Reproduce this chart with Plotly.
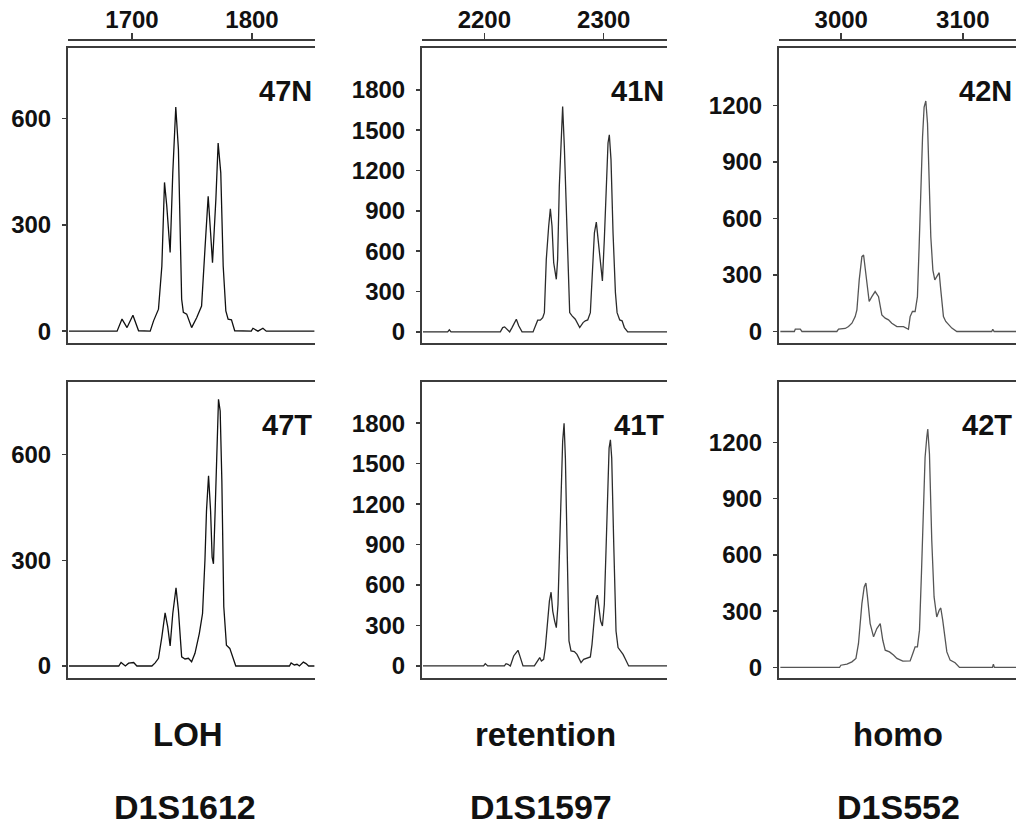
import plotly.graph_objects as go

# ---------------- data ----------------
x_47N = [1647.5, 1687.6, 1691.7, 1695.9, 1700.8, 1705.5, 1715.2, 1718.0, 1722.1, 1724.9, 1727.1, 1729.0,
         1731.8, 1734.0, 1736.5, 1738.7, 1741.4, 1742.8, 1745.6, 1749.7, 1753.9, 1758.0, 1760.8, 1763.5,
         1765.5, 1767.1, 1769.9, 1771.8, 1774.0, 1776.0, 1778.2, 1780.1, 1782.9, 1785.6, 1799.4, 1800.8,
         1805.0, 1809.1, 1811.9, 1852.0]
y_47N = [0, 0, 34, 10, 45, 1, 0, 29, 62, 184, 420, 353,
         222, 447, 633, 513, 90, 53, 48, 10, 38, 71, 231, 381,
         278, 193, 372, 531, 447, 184, 57, 34, 32, 1, 0, 8,
         0, 8, 0, 0]

x_47T = [1647.5, 1689.0, 1690.9, 1694.5, 1697.2, 1701.4, 1704.1, 1716.6, 1719.3, 1722.1, 1724.9, 1727.6,
         1729.8, 1731.8, 1734.0, 1736.7, 1738.7, 1741.4, 1744.2, 1747.0, 1749.7, 1752.5, 1756.1, 1758.8,
         1760.8, 1762.1, 1763.8, 1765.5, 1766.8, 1767.9, 1769.3, 1770.7, 1772.1, 1773.5, 1774.9, 1776.5,
         1778.7, 1781.5, 1784.2, 1786.5, 1831.2, 1832.6, 1835.3, 1837.5, 1839.5, 1842.8, 1845.0, 1847.2,
         1852.0]
y_47T = [0, 0, 10, 0, 8, 10, 0, 0, 9, 22, 83, 151,
         111, 57, 149, 222, 158, 26, 20, 22, 12, 36, 92, 149,
         300, 441, 540, 441, 309, 290, 441, 592, 757, 724, 526, 168,
         59, 50, 26, 0, 0, 9, 3, 5, 0, 11, 7, 0,
         0]

x_41N = [2148.6, 2169.3, 2170.7, 2172.1, 2213.4, 2215.4, 2217.0, 2219.0, 2221.2, 2223.2, 2226.8, 2228.8,
         2231.6, 2240.8, 2242.7, 2244.7, 2246.9, 2248.9, 2250.3, 2251.9, 2253.9, 2255.3, 2256.7, 2258.1,
         2260.3, 2261.4, 2262.8, 2264.2, 2265.6, 2267.0, 2268.7, 2270.4, 2271.5, 2273.5, 2276.2, 2279.9,
         2282.7, 2284.6, 2286.6, 2288.8, 2290.8, 2292.2, 2293.8, 2295.2, 2297.2, 2298.9, 2300.5, 2302.2,
         2303.6, 2304.7, 2306.1, 2307.8, 2309.8, 2311.2, 2313.4, 2315.4, 2317.3, 2320.1, 2353.1]
y_41N = [0, 0, 15, 0, 0, 32, 37, 20, 0, 32, 94, 45,
         0, 0, 45, 87, 87, 106, 143, 539, 786, 915, 786, 514,
         391, 539, 1083, 1429, 1676, 1380, 860, 366, 143, 119, 94, 32,
         69, 82, 89, 143, 490, 737, 816, 687, 490, 378, 687, 1083,
         1405, 1466, 1281, 737, 292, 143, 89, 82, 32, 0, 0]

x_41T = [2148.6, 2199.4, 2200.8, 2202.8, 2216.8, 2218.2, 2219.8, 2221.8, 2224.6, 2228.2, 2230.2, 2232.4,
         2241.9, 2244.1, 2246.4, 2247.8, 2249.7, 2251.1, 2253.1, 2254.5, 2255.9, 2257.3, 2258.9, 2260.3,
         2261.7, 2263.1, 2264.2, 2265.6, 2266.8, 2267.9, 2269.3, 2270.9, 2272.6, 2275.4, 2277.6, 2281.0,
         2283.2, 2286.0, 2288.8, 2290.2, 2292.2, 2293.5, 2294.7, 2296.1, 2297.4, 2298.9, 2300.5, 2301.9,
         2303.3, 2304.5, 2305.6, 2306.7, 2308.4, 2310.3, 2312.0, 2314.0, 2316.2, 2318.2, 2320.9, 2353.1]
y_41T = [0, 0, 17, 0, 0, 17, 12, 0, 74, 116, 62, 0,
         0, 32, 62, 37, 49, 136, 358, 481, 547, 407, 333, 284,
         456, 925, 1295, 1665, 1800, 1541, 900, 185, 111, 106, 86, 25,
         49, 57, 67, 160, 407, 493, 525, 432, 333, 296, 456, 851,
         1295, 1615, 1677, 1541, 900, 259, 136, 111, 86, 49, 0, 0]

x_42N = [2949.9, 2961.4, 2962.2, 2966.3, 2967.7, 2996.4, 2997.8, 3003.3, 3006.0, 3008.8, 3011.5, 3012.9,
         3014.8, 3017.0, 3018.4, 3018.9, 3021.1, 3023.0, 3025.2, 3027.9, 3030.7, 3033.4, 3036.2, 3038.9,
         3041.6, 3045.8, 3051.2, 3055.3, 3056.7, 3058.6, 3060.8, 3062.7, 3064.1, 3065.5, 3066.9, 3068.2,
         3069.6, 3071.0, 3072.3, 3073.7, 3075.4, 3077.0, 3078.6, 3080.6, 3081.9, 3084.1, 3086.0, 3088.2,
         3091.0, 3095.1, 3123.8, 3124.7, 3125.8, 3144.4]
y_42N = [0, 0, 12, 12, 0, 0, 12, 16, 26, 44, 79, 115,
         274, 397, 406, 379, 238, 159, 185, 212, 185, 88, 71, 62,
         44, 26, 26, 12, 79, 106, 106, 185, 450, 750, 1032, 1191,
         1223, 1103, 785, 503, 326, 274, 291, 312, 221, 79, 53, 35,
         18, 0, 0, 12, 0, 0]

x_42T = [2949.9, 2998.6, 2999.7, 3004.7, 3008.8, 3012.1, 3014.2, 3017.0, 3018.9, 3020.3, 3021.6, 3023.8,
         3026.6, 3029.3, 3032.1, 3034.2, 3036.2, 3039.7, 3043.0, 3045.8, 3050.7, 3056.7, 3058.9, 3060.8,
         3062.7, 3064.4, 3066.0, 3067.7, 3069.0, 3070.4, 3071.2, 3072.6, 3074.5, 3076.4, 3078.6, 3080.6,
         3081.9, 3083.5, 3085.5, 3086.9, 3089.6, 3093.7, 3097.3, 3124.4, 3125.2, 3126.0, 3144.4]
y_42T = [0, 0, 12, 18, 30, 48, 128, 340, 429, 450, 376, 234,
         163, 207, 234, 145, 92, 83, 66, 48, 34, 35, 74, 110,
         110, 199, 500, 854, 1120, 1227, 1271, 1138, 677, 376, 269, 305,
         317, 252, 145, 83, 39, 25, 0, 0, 18, 0, 0]

sample_labels = ["47N", "41N", "42N", "47T", "41T", "42T"]
status_labels = ["LOH", "retention", "homo"]
marker_labels = ["D1S1612", "D1S1597", "D1S552"]

x_ranges = [[1646.7, 1852.5], [2147.8, 2353.0], [2948.8, 3143.8]]
x_ticks = [[1700, 1800], [2200, 2300], [3000, 3100]]
y_ranges = [[-34, 800], [-84, 2112], [-62, 1505],
            [-35, 806], [-92, 2105], [-58, 1521]]
y_ticks = [[0, 300, 600], [0, 300, 600, 900, 1200, 1500, 1800], [0, 300, 600, 900, 1200]]

series_x = [x_47N, x_41N, x_42N, x_47T, x_41T, x_42T]
series_y = [y_47N, y_41N, y_42N, y_47T, y_41T, y_42T]

# ---------------- layout geometry ----------------
W, H = 1016, 826
col_px = [(68, 315), (422, 667), (779, 1016)]
row_px = [(48, 344), (383, 680)]
status_cx = [188, 545, 898]
marker_cx = [185, 541, 898]
line_col = "#3c3c3c"
trace_cols = ["#111111", "#2b2b2b", "#555555"]
FONT = "Liberation Sans, Arial, Helvetica, sans-serif"
TICK_SIZE = 24

fig = go.Figure()
layout = dict(
    width=W, height=H,
    margin=dict(l=0, r=0, t=0, b=0),
    paper_bgcolor="white", plot_bgcolor="white",
    showlegend=False,
    font=dict(family=FONT, color="#111", size=22, weight="bold"),
)

annotations = []
for i in range(6):
    r, c = divmod(i, 3)
    n = i + 1
    xa = "xaxis" if n == 1 else f"xaxis{n}"
    ya = "yaxis" if n == 1 else f"yaxis{n}"
    xs = "x" if n == 1 else f"x{n}"
    ys = "y" if n == 1 else f"y{n}"
    x0, x1 = col_px[c]
    y0, y1 = row_px[r]
    layout[xa] = dict(
        domain=[x0 / W, x1 / W], range=x_ranges[c], anchor=ys,
        showline=True, linecolor=line_col, linewidth=2, mirror=True,
        showgrid=False, zeroline=False, ticks="", showticklabels=False,
    )
    layout[ya] = dict(
        domain=[1 - y1 / H, 1 - y0 / H], range=y_ranges[i], anchor=xs,
        showline=True, linecolor=line_col, linewidth=2,
        showgrid=False, zeroline=False,
        tickvals=y_ticks[c], ticks="outside", ticklen=4, tickwidth=1.5, tickcolor=line_col,
        ticklabelstandoff=6,
        tickfont=dict(family=FONT, size=TICK_SIZE, color="#111", weight="bold"),
    )
    fig.add_trace(go.Scatter(
        x=series_x[i], y=series_y[i], mode="lines", xaxis=xs, yaxis=ys,
        line=dict(color=trace_cols[c], width=1.3), hoverinfo="skip",
    ))
    annotations.append(dict(
        text=sample_labels[i], xref=f"{xs} domain", x=1, xanchor="right",
        xshift=-1 if c < 2 else -2,
        yref="paper", y=1 - (91 if r == 0 else 426) / H, yanchor="middle",
        showarrow=False, font=dict(family=FONT, size=29, color="#111", weight="bold"),
    ))

# top scale axes (first row)
for c in range(3):
    n = 7 + c
    base = "x" if c == 0 else f"x{c + 1}"
    x0, x1 = col_px[c]
    layout[f"xaxis{n}"] = dict(
        domain=[x0 / W, x1 / W], range=x_ranges[c], overlaying=base,
        anchor="free", position=1 - 40 / H, side="top",
        showline=True, linecolor=line_col, linewidth=2,
        showgrid=False, zeroline=False,
        tickvals=x_ticks[c], ticks="outside", ticklen=6, tickwidth=1.5, tickcolor=line_col,
        ticklabelstandoff=-5,
        tickfont=dict(family=FONT, size=TICK_SIZE, color="#111", weight="bold"),
    )
    fig.add_trace(go.Scatter(
        x=[x_ranges[c][0]], y=[None], mode="lines", xaxis=f"x{n}",
        yaxis="y" if c == 0 else f"y{c + 1}", hoverinfo="skip", showlegend=False,
    ))

# bottom captions
for c in range(3):
    annotations.append(dict(
        text=status_labels[c], xref="paper", x=status_cx[c] / W, yref="paper", y=1 - 736 / H,
        yanchor="middle", xanchor="center", showarrow=False,
        font=dict(family=FONT, size=33, color="#111", weight="bold"),
    ))
    annotations.append(dict(
        text=marker_labels[c], xref="paper", x=marker_cx[c] / W, yref="paper", y=1 - 809 / H,
        yanchor="middle", xanchor="center", showarrow=False,
        font=dict(family=FONT, size=34, color="#111", weight="bold"),
    ))

layout["annotations"] = annotations
fig.update_layout(**layout)
fig.write_html(
    "out.html",
    config={"displayModeBar": False, "staticPlot": True},
    post_script="document.body.style.margin='0';document.body.style.overflow='hidden';",
)
